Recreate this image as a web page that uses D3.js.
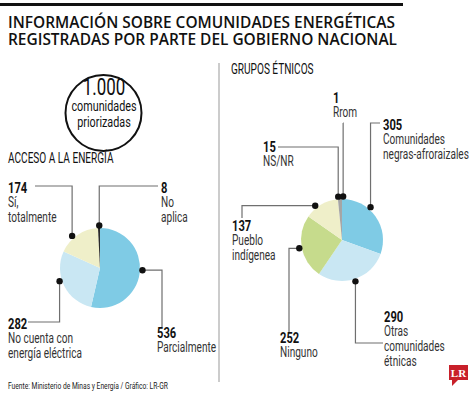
<!DOCTYPE html>
<html lang="es">
<head>
<meta charset="UTF-8">
<script src="https://d3js.org/d3.v7.min.js"></script>
<style>
  body { margin: 0; background: #fff; }
  svg { display: block; }
  .cond { font-family: Roboto, "Open Sans", sans-serif; }
  .num { font-weight: bold; font-size: 15.5px; fill: #111; }
  .lab { font-size: 14px; fill: #333; }
</style>
</head>
<body>
<script>
// --- data ---
var energyLabels = ["Parcialmente", "No cuenta con\nenergía eléctrica", "Sí,\ntotalmente", "No\naplica"];
var energyValues = [536, 282, 174, 8];
var energyColors = ["#7fcbe5", "#c9e7f3", "#efefc9", "#2b2b2b"];

var ethnicLabels = ["Comunidades\nnegras-afroraizales", "Otras\ncomunidades\nétnicas", "Ninguno", "Pueblo\nindígenea", "NS/NR", "Rrom"];
var ethnicValues = [305, 290, 252, 137, 15, 1];
var ethnicColors = ["#7fcbe5", "#c9e7f3", "#c6db8c", "#efefc9", "#a5a5a5", "#666666"];

var total = "1.000";

var W = 474, H = 395;
var SX = 0.72; // horizontal squeeze to mimic the condensed face
var svg = d3.select("body").append("svg").attr("width", W).attr("height", H);

// condensed text helper
function ctext(parent, x, y, size, str, anchor) {
  return parent.append("text").attr("class", "cond")
    .attr("transform", "translate(" + x + "," + y + ") scale(" + SX + ",1)")
    .attr("text-anchor", anchor || "start")
    .style("font-size", size + "px").attr("fill", "#111").text(str);
}

// top rule + title
svg.append("rect").attr("x", 0).attr("y", 3).attr("width", 403).attr("height", 3).attr("fill", "#111");
var title = ["INFORMACIÓN SOBRE COMUNIDADES ENERGÉTICAS", "REGISTRADAS POR PARTE DEL GOBIERNO NACIONAL"];
svg.selectAll("text.title").data(title).enter().append("text")
  .attr("class", "title")
  .attr("x", 8)
  .attr("y", function(d, i) { return 28 + i * 17; })
  .attr("textLength", function(d, i) { return i == 0 ? 387 : 389; })
  .attr("lengthAdjust", "spacingAndGlyphs")
  .style("font-family", "'Open Sans', sans-serif")
  .style("font-weight", 600)
  .style("font-size", "17px")
  .attr("fill", "#111")
  .text(function(d) { return d; });

// divider
svg.append("line").attr("x1", 219).attr("x2", 219).attr("y1", 63).attr("y2", 382)
  .attr("stroke", "#999").attr("stroke-width", 1);

// total badge
svg.append("circle").attr("cx", 103.5).attr("cy", 113).attr("r", 38)
  .attr("fill", "#fff").attr("stroke", "#111").attr("stroke-width", 2);
ctext(svg, 104, 95, 23.5, total, "middle");
ctext(svg, 104, 111, 15, "comunidades", "middle");
ctext(svg, 104, 127, 15, "priorizadas", "middle");

// section headings
ctext(svg, 8, 163, 14, "ACCESO A LA ENERGÍA");
ctext(svg, 231, 74, 14, "GRUPOS ÉTNICOS");

// leader layouts (angle in degrees clockwise from top)
var energyLayout = [
  {angle: 93, route: "h", elbow: 162, end: 327, lx: 157, ly: 338},
  {angle: 252, route: "v", elbow: 322, end: 28, lx: 8, ly: 329},
  {angle: 319, route: "v", elbow: 186, end: 35, lx: 8, ly: 193},
  {angle: 359, route: "v", elbow: 186, end: 158, lx: 161, ly: 193}
];
var ethnicLayout = [
  {angle: 41, route: "v", elbow: 123, end: 380, lx: 383, ly: 130},
  {angle: 162, route: "v", elbow: 343, end: 383, lx: 384, ly: 322},
  {angle: 259, route: "h", elbow: 289, end: 332, lx: 280, ly: 343},
  {angle: 322, route: "h", elbow: 242, end: 218, lx: 232, ly: 231},
  {angle: 355, route: "v", elbow: 147, end: 278, lx: 263, ly: 152},
  {angle: 1.5, route: "v", elbow: 123, end: 343, lx: 333, ly: 103}
];

function drawPie(cx, cy, r, values, labels, colors, layout) {
  var g = svg.append("g");
  var pie = d3.pie().sort(null).value(function(d) { return d; });
  var arc = d3.arc().innerRadius(0).outerRadius(r);
  var arcs = pie(values);

  g.selectAll("path.slice").data(arcs).enter().append("path")
    .attr("class", "slice")
    .attr("transform", "translate(" + cx + "," + cy + ")")
    .attr("d", arc)
    .attr("fill", function(d, i) { return colors[i]; });

  var line = d3.line();
  arcs.forEach(function(a, i) {
    var L = layout[i];
    var t = L.angle * Math.PI / 180;
    var dx = cx + Math.sin(t) * (r + 2.5);
    var dy = cy - Math.cos(t) * (r + 2.5);
    var pts;
    if (L.route == "v") pts = [[dx, dy], [dx, L.elbow], [L.end, L.elbow]];
    else pts = [[dx, dy], [L.elbow, dy], [L.elbow, L.end]];
    g.append("path").attr("d", line(pts)).attr("fill", "none")
      .attr("stroke", "#6f6f6f").attr("stroke-width", 1.2);
    g.append("circle").attr("cx", dx).attr("cy", dy).attr("r", 3.2).attr("fill", "#111");

    var txt = g.append("text").attr("class", "cond")
      .attr("transform", "translate(" + L.lx + "," + L.ly + ") scale(" + SX + ",1)");
    txt.append("tspan").attr("class", "num").attr("x", 0).text(values[i]);
    labels[i].split("\n").forEach(function(s, k) {
      txt.append("tspan").attr("class", "lab").attr("x", 0)
        .attr("dy", k == 0 ? 14.5 : 15).text(s);
    });
  });
}

drawPie(100, 268, 40, energyValues, energyLabels, energyColors, energyLayout);
drawPie(342, 240, 41, ethnicValues, ethnicLabels, ethnicColors, ethnicLayout);

// source
ctext(svg, 8, 389, 9.3, "Fuente: Ministerio de Minas y Energía / Gráfico: LR-GR").attr("fill", "#222");

// LR logo
var logo = svg.append("g");
logo.append("rect").attr("x", 449).attr("y", 365).attr("width", 19).attr("height", 15).attr("fill", "#c8202a");
logo.append("path").attr("d", "M452,380 L452,386 L458,380 Z").attr("fill", "#c8202a");
logo.append("text").attr("x", 458.5).attr("y", 377).attr("text-anchor", "middle")
  .style("font-family", "'Liberation Serif', serif").style("font-weight", "bold")
  .style("font-size", "11px").attr("fill", "#fff").text("LR");
</script>
</body>
</html>
